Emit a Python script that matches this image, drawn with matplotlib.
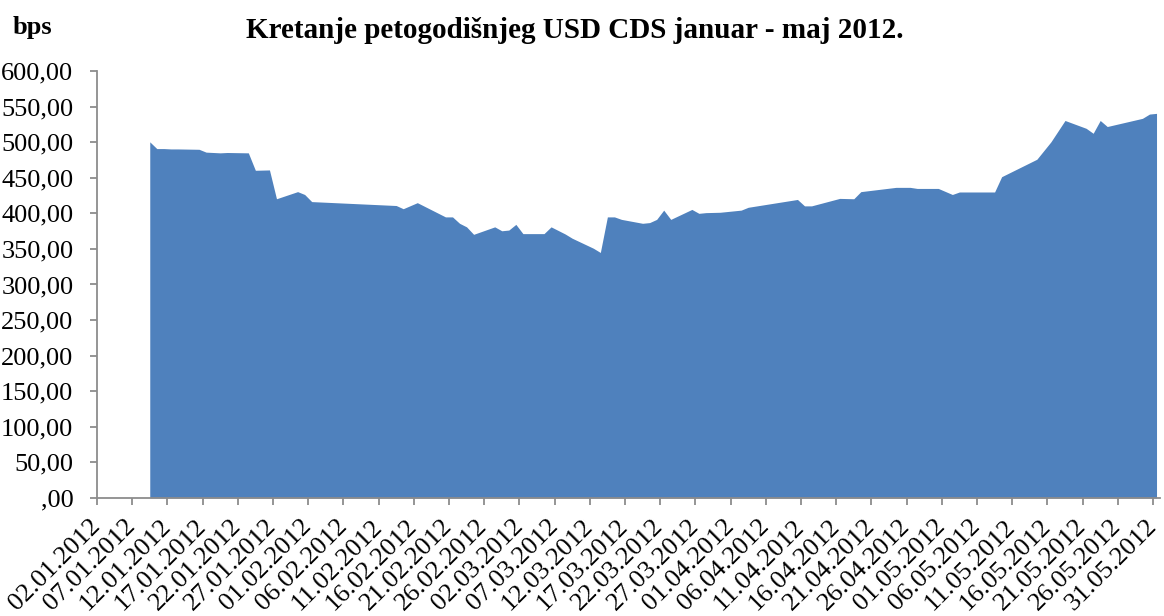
import matplotlib
matplotlib.use('Agg')
import matplotlib.pyplot as plt
import matplotlib.ticker as mticker
import pandas as pd

# 5Y USD CDS, bps, working days Jan-May 2012
dates = [
    "2012-01-09", "2012-01-10", "2012-01-11", "2012-01-12", "2012-01-13",
    "2012-01-16", "2012-01-17", "2012-01-19", "2012-01-20", "2012-01-23",
    "2012-01-24", "2012-01-26", "2012-01-27", "2012-01-30", "2012-01-31",
    "2012-02-01", "2012-02-13", "2012-02-14", "2012-02-16", "2012-02-20",
    "2012-02-21", "2012-02-22", "2012-02-23", "2012-02-24", "2012-02-27",
    "2012-02-28", "2012-02-29", "2012-03-01", "2012-03-02", "2012-03-05",
    "2012-03-06", "2012-03-08", "2012-03-09", "2012-03-12", "2012-03-13",
    "2012-03-14", "2012-03-15", "2012-03-16", "2012-03-19", "2012-03-20",
    "2012-03-21", "2012-03-22", "2012-03-23", "2012-03-26", "2012-03-27",
    "2012-03-28", "2012-03-30", "2012-04-02", "2012-04-03", "2012-04-10",
    "2012-04-11", "2012-04-12", "2012-04-16", "2012-04-18", "2012-04-19",
    "2012-04-24", "2012-04-26", "2012-04-27", "2012-04-30", "2012-05-02",
    "2012-05-03", "2012-05-08", "2012-05-09", "2012-05-14", "2012-05-16",
    "2012-05-18", "2012-05-21", "2012-05-22", "2012-05-23", "2012-05-24",
    "2012-05-29", "2012-05-30", "2012-05-31",
]
cds = [
    500.5, 491.0, 491.0, 490.5, 490.5,
    490.0, 486.0, 485.0, 485.5, 485.0,
    460.5, 461.0, 420.5, 430.5, 426.5,
    416.5, 411.0, 406.5, 415.0, 395.0,
    395.0, 386.0, 381.0, 370.5, 381.0,
    375.5, 376.5, 384.5, 371.5, 371.5,
    381.0, 371.0, 365.0, 351.0, 345.0,
    395.0, 395.0, 391.5, 386.0, 387.0,
    391.5, 404.5, 391.5, 405.5, 400.0,
    401.0, 401.5, 404.5, 408.5, 419.5,
    410.5, 410.5, 421.0, 420.5, 430.5,
    436.5, 436.5, 435.0, 435.0, 426.5,
    430.0, 430.0, 451.5, 476.0, 500.5,
    530.5, 519.5, 512.5, 530.5, 522.0,
    533.5, 539.5, 540.5,
]

tick_dates = pd.date_range("2012-01-02", "2012-05-31", freq="5D")
y_ticks = list(range(0, 601, 50))

plt.rcParams['font.family'] = ['Liberation Serif', 'DejaVu Serif']

fig = plt.figure(figsize=(11.64, 6.16), dpi=100)
ax = fig.add_axes([0.0833, 0.1916, 0.9133, 0.6931])

# each day's value sits in the middle of its date slot
x = pd.to_datetime(dates) + pd.Timedelta(hours=12)
ax.fill_between(x, cds, 0, color='#4F81BD', linewidth=0)

ax.set_xlim(pd.Timestamp("2012-01-02"), pd.Timestamp("2012-06-01"))
ax.set_ylim(0, 600)

ax.set_yticks(y_ticks)
ax.yaxis.set_major_formatter(mticker.FuncFormatter(
    lambda v, p: ",00" if v == 0 else f"{v:.2f}".replace(".", ",")))
ax.set_xticks(tick_dates)
ax.set_xticklabels([d.strftime("%d.%m.%Y") for d in tick_dates],
                   rotation=45, ha='right', va='center', rotation_mode='anchor')

for side in ('top', 'right'):
    ax.spines[side].set_visible(False)
for side in ('left', 'bottom'):
    ax.spines[side].set_color('#8c8c8c')
    ax.spines[side].set_linewidth(1.3)
ax.tick_params(axis='both', direction='out', colors='#8c8c8c', length=5,
               width=1.3, labelcolor='black', labelsize=19)
ax.tick_params(axis='y', pad=12)
ax.tick_params(axis='x', pad=13)

fig.text(0.494, 0.950, "Kretanje petogodišnjeg USD CDS januar - maj 2012.",
         ha='center', va='center', fontsize=21, fontweight='bold')
fig.text(0.011, 0.955, "bps", ha='left', va='center', fontsize=19,
         fontweight='bold')

fig.savefig("out.png", dpi=100)
